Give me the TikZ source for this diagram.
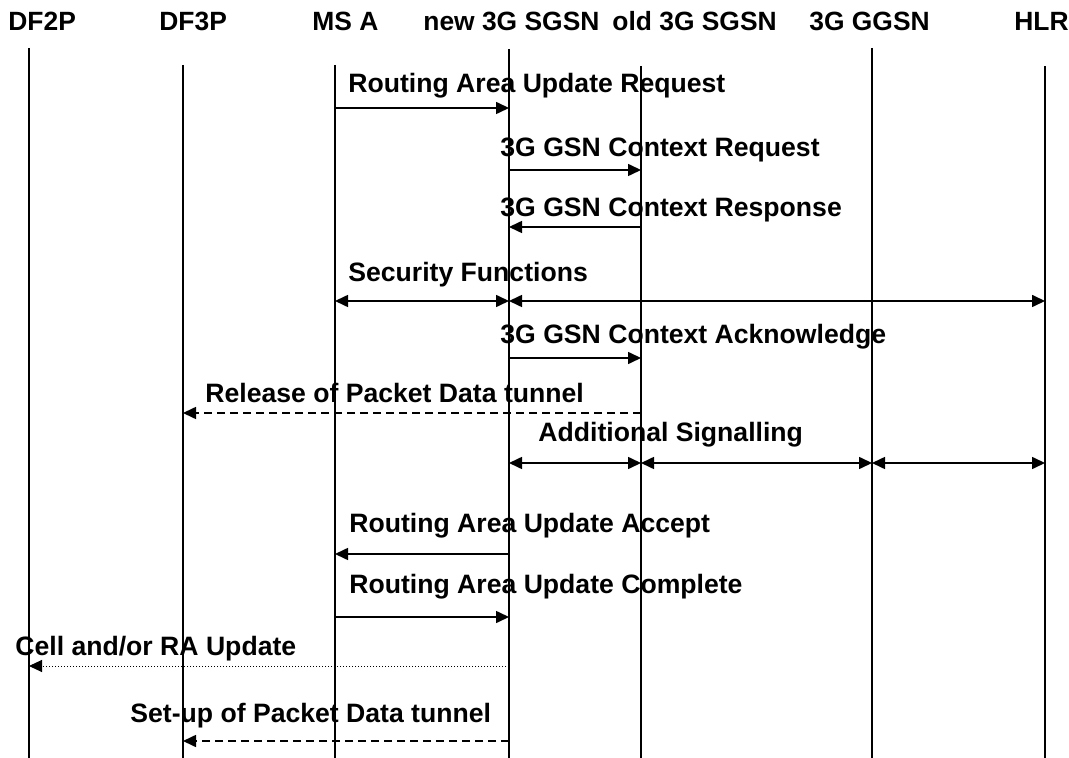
\documentclass[tikz,border=0pt]{standalone}
\usepackage{fontspec}
\setmainfont{Liberation Sans}
\usetikzlibrary{arrows.meta}
\begin{document}
\begin{tikzpicture}[x=0.5pt,y=-0.5pt,
  life/.style={line width=0.8pt},
  msg/.style={line width=0.8pt,-{Triangle[length=6.5pt,width=6pt]}},
  both/.style={line width=0.8pt,{Triangle[length=6.5pt,width=6pt]}-{Triangle[length=6.5pt,width=6pt]}},
  dsh/.style={msg,dash pattern=on 4pt off 2.5pt},
  dot/.style={line width=0.5pt,dash pattern=on 0.5pt off 1pt,-{Triangle[length=6.5pt,width=6pt]}},
  hdr/.style={anchor=base west,inner sep=0pt,font=\bfseries\fontsize{13.2pt}{16pt}\selectfont},
  lbl/.style={anchor=base west,inner sep=0pt,font=\bfseries\fontsize{13.3pt}{16pt}\selectfont}]
\useasboundingbox[fill=white] (0,0) rectangle (1069,758);
% headers
\node[hdr] (hDF2P) at (8,31) {DF2P};
\node[hdr] (hDF3P) at (159,31) {DF3P};
\node[hdr] (hMSA) at (312,31) {MS A};
\node[hdr] (hNSG) at (423,31) {new 3G SGSN};
\node[hdr] (hOSG) at (612,31) {old 3G SGSN};
\node[hdr] (hGG) at (809,31) {3G GGSN};
\node[hdr] (hHLR) at (1014,31) {HLR};
% lifelines
\coordinate (DF2P) at (29,48);
\coordinate (DF3P) at (183,65);
\coordinate (MSA) at (335,65);
\coordinate (NSG) at (509,49);
\coordinate (OSG) at (641,66);
\coordinate (GG) at (872,48);
\coordinate (HLR) at (1045,66);
\foreach \c in {DF2P,DF3P,MSA,NSG,OSG,GG,HLR}
  \draw[life] (\c) -- (\c |- 0,758);
% messages
\node[lbl] (m1) at (348,93) {Routing Area Update Request};
\draw[msg] (MSA |- 0,108) -- (NSG |- 0,108);
\node[lbl] (m2) at (500,157) {3G GSN Context Request};
\draw[msg] (NSG |- 0,170) -- (OSG |- 0,170);
\node[lbl] (m3) at (500,217) {3G GSN Context Response};
\draw[msg] (OSG |- 0,227) -- (NSG |- 0,227);
\node[lbl] (m4) at (348,282) {Security Functions};
\draw[both] (MSA |- 0,301) -- (NSG |- 0,301);
\draw[both] (NSG |- 0,301) -- (HLR |- 0,301);
\node[lbl] (m5) at (500,344) {3G GSN Context Acknowledge};
\draw[msg] (NSG |- 0,358) -- (OSG |- 0,358);
\node[lbl] (m6) at (205,403) {Release of Packet Data tunnel};
\draw[dsh] (OSG |- 0,413) -- (DF3P |- 0,413);
\node[lbl] (m7) at (538,442) {Additional Signalling};
\draw[both] (NSG |- 0,463) -- (OSG |- 0,463);
\draw[both] (OSG |- 0,463) -- (GG |- 0,463);
\draw[both] (GG |- 0,463) -- (HLR |- 0,463);
\node[lbl] (m8) at (349,532) {Routing Area Update Accept};
\draw[msg] (NSG |- 0,554) -- (MSA |- 0,554);
\node[lbl] (m9) at (349,593) {Routing Area Update Complete};
\draw[msg] (MSA |- 0,617) -- (NSG |- 0,617);
\node[lbl] (m10) at (15,655) {Cell and/or RA Update};
\draw[dot] (NSG |- 0,666) -- (DF2P |- 0,666);
\node[lbl] (m11) at (130,722) {Set-up of Packet Data tunnel};
\draw[dsh] (NSG |- 0,741) -- (DF3P |- 0,741);
\end{tikzpicture}
\end{document}
